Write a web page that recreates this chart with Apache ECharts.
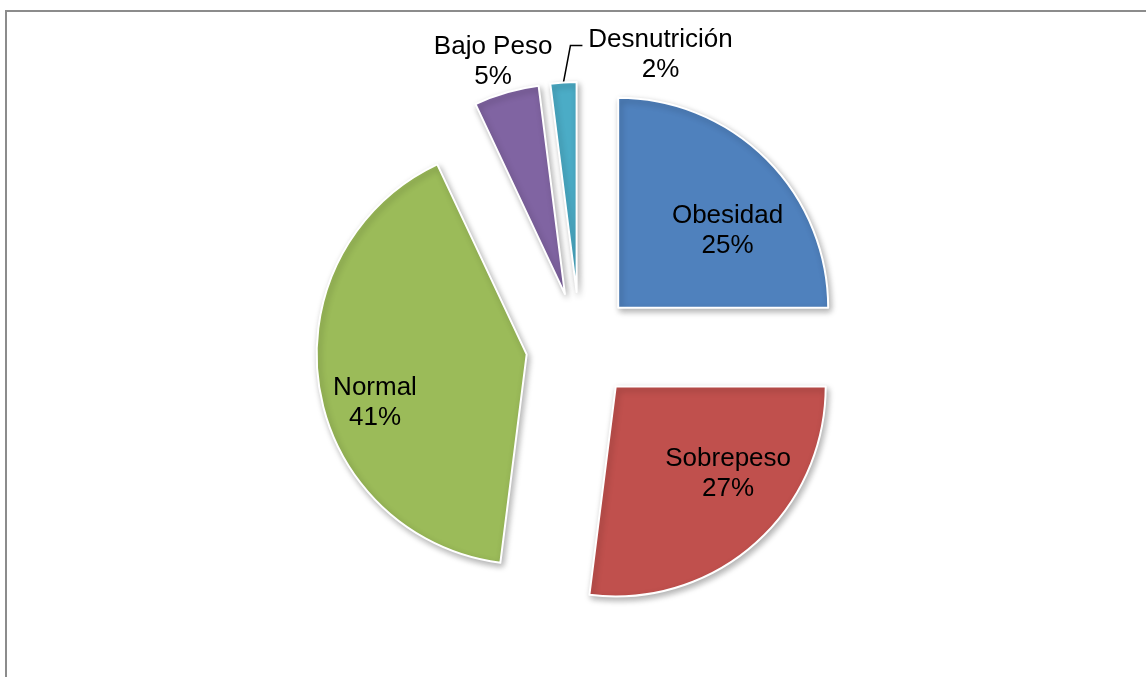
<!DOCTYPE html>
<html>
<head>
<meta charset="utf-8">
<script src="https://cdn.jsdelivr.net/npm/echarts@6/dist/echarts.min.js"></script>
<style>
  html, body { margin: 0; padding: 0; background: #fff; }
  #grafico { width: 1146px; height: 677px; }
</style>
</head>
<body>
<div id="grafico"></div>
<script>
// datos
var categorias = ["Obesidad", "Sobrepeso", "Normal", "Bajo Peso", "Desnutrición"];
var porcentajes = [25, 27, 41, 5, 2];
var colores = ["#4F81BD", "#C0504D", "#9BBB59", "#8064A2", "#4BACC6"];

var miChart = echarts.init(document.getElementById("grafico"));

// etiquetas dentro / fuera
var fuera = [false, false, false, true, true];

var datos = categorias.map(function (nombre, i) {
  return {
    name: nombre,
    value: porcentajes[i],
    selected: true,
    itemStyle: { color: colores[i] },
    label: { position: fuera[i] ? "outside" : "inside" },
    labelLine: { show: i === 4 }
  };
});

// pequeños ajustes de las etiquetas (px)
var ajuste = {
  0: [33, -1],
  1: [41, 6],
  2: [-45, 31],
  3: [114, -70],
  4: [133, -13]
};

var option = {
  animation: false,
  graphic: [
    {
      type: "rect",
      shape: { x: 6, y: 11, width: 1160, height: 700 },
      style: { fill: "none", stroke: "#8c8c8c", lineWidth: 2 },
      silent: true
    }
  ],
  series: [
    {
      type: "pie",
      center: [580, 346],
      radius: 210,
      startAngle: 90,
      clockwise: true,
      selectedMode: "multiple",
      selectedOffset: 54,
      data: datos,
      itemStyle: {
        borderColor: "#fff",
        borderWidth: 2,
        shadowBlur: 6,
        shadowColor: "rgba(0,0,0,0.3)",
        shadowOffsetX: 2,
        shadowOffsetY: 3
      },
      emphasis: { scale: false },
      label: {
        formatter: "{b}\n{c}%",
        fontFamily: "Liberation Sans, Arial, sans-serif",
        fontSize: 26,
        lineHeight: 30,
        color: "#000",
        align: "center"
      },
      labelLine: {
        lineStyle: { color: "#000", width: 1.5 }
      },
      labelLayout: function (p) {
        var a = ajuste[p.dataIndex] || [0, 0];
        var res = { dx: a[0], dy: a[1] };
        if (p.dataIndex >= 3) {
          res.align = "center";
        }
        if (p.dataIndex === 4 && p.labelLinePoints) {
          var p0 = p.labelLinePoints[0];
          res.labelLinePoints = [p0, [p0[0] + 7, p0[1] - 37], [p0[0] + 19, p0[1] - 37]];
        }
        return res;
      }
    }
  ]
};

miChart.setOption(option);
window.addEventListener("resize", function () {
  miChart.resize();
});
</script>
</body>
</html>
